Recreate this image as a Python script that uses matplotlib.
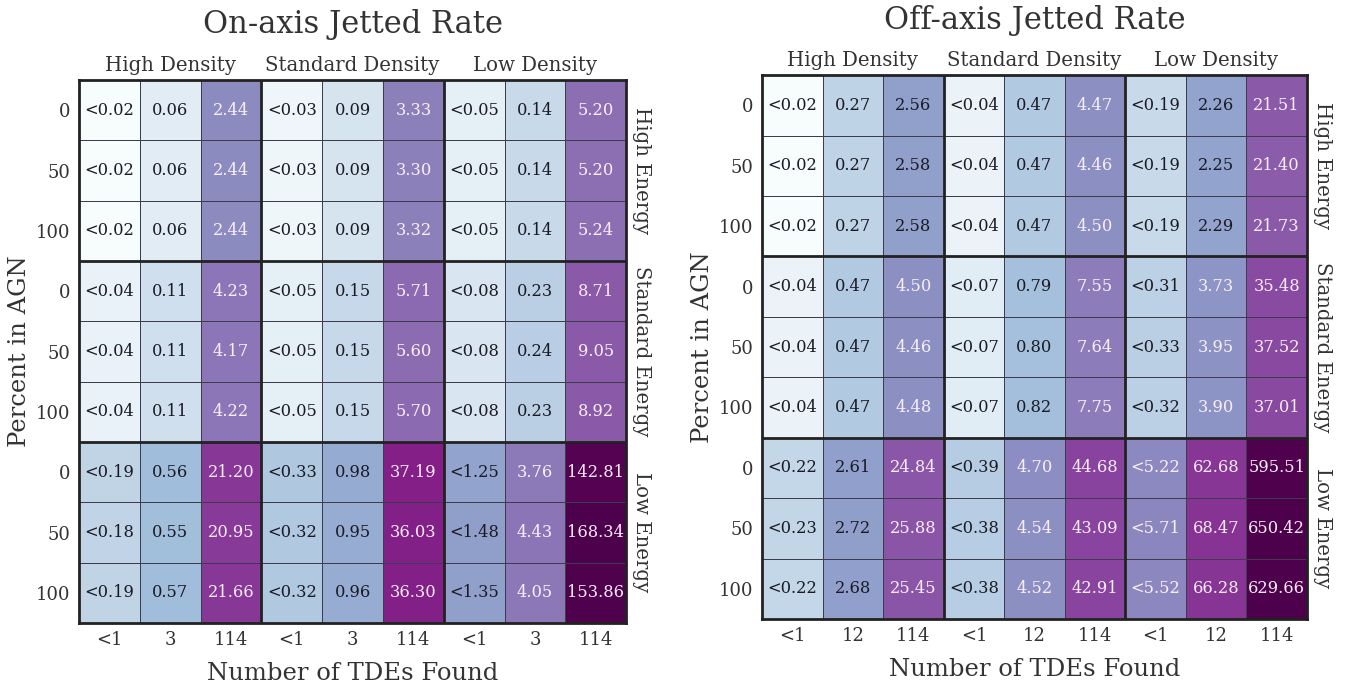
import matplotlib
matplotlib.use('Agg')
import matplotlib.pyplot as plt
import numpy as np
from matplotlib.colors import LogNorm

plt.rcParams['font.family'] = 'DejaVu Serif'

# строки: энергия (High, Standard, Low) x доля в AGN (0, 50, 100)
# столбцы: плотность (High, Standard, Low) x число TDE (<1, мало, 114)
on_axis_rates = [
    [0.02, 0.06, 2.44, 0.03, 0.09, 3.33, 0.05, 0.14, 5.20],
    [0.02, 0.06, 2.44, 0.03, 0.09, 3.30, 0.05, 0.14, 5.20],
    [0.02, 0.06, 2.44, 0.03, 0.09, 3.32, 0.05, 0.14, 5.24],
    [0.04, 0.11, 4.23, 0.05, 0.15, 5.71, 0.08, 0.23, 8.71],
    [0.04, 0.11, 4.17, 0.05, 0.15, 5.60, 0.08, 0.24, 9.05],
    [0.04, 0.11, 4.22, 0.05, 0.15, 5.70, 0.08, 0.23, 8.92],
    [0.19, 0.56, 21.20, 0.33, 0.98, 37.19, 1.25, 3.76, 142.81],
    [0.18, 0.55, 20.95, 0.32, 0.95, 36.03, 1.48, 4.43, 168.34],
    [0.19, 0.57, 21.66, 0.32, 0.96, 36.30, 1.35, 4.05, 153.86],
]
off_axis_rates = [
    [0.02, 0.27, 2.56, 0.04, 0.47, 4.47, 0.19, 2.26, 21.51],
    [0.02, 0.27, 2.58, 0.04, 0.47, 4.46, 0.19, 2.25, 21.40],
    [0.02, 0.27, 2.58, 0.04, 0.47, 4.50, 0.19, 2.29, 21.73],
    [0.04, 0.47, 4.50, 0.07, 0.79, 7.55, 0.31, 3.73, 35.48],
    [0.04, 0.47, 4.46, 0.07, 0.80, 7.64, 0.33, 3.95, 37.52],
    [0.04, 0.47, 4.48, 0.07, 0.82, 7.75, 0.32, 3.90, 37.01],
    [0.22, 2.61, 24.84, 0.39, 4.70, 44.68, 5.22, 62.68, 595.51],
    [0.23, 2.72, 25.88, 0.38, 4.54, 43.09, 5.71, 68.47, 650.42],
    [0.22, 2.68, 25.45, 0.38, 4.52, 42.91, 5.52, 66.28, 629.66],
]
# столбцы с верхними пределами ("<")
upper_limit_cols = [0, 3, 6]

agn_percent = ['0', '50', '100'] * 3
on_axis_tdes = ['<1', '3', '114'] * 3
off_axis_tdes = ['<1', '12', '114'] * 3
density_labels = ['High Density', 'Standard Density', 'Low Density']
energy_labels = ['High Energy', 'Standard Energy', 'Low Energy']

TEXT = '#333333'


def draw_panel(ax, rates, tde_labels, title, title_pad, dens_y):
    data = np.array(rates)
    n_rows, n_cols = data.shape
    norm = LogNorm(vmin=data.min(), vmax=data.max())
    cmap = plt.get_cmap('BuPu')
    ax.pcolormesh(np.arange(n_cols + 1), np.arange(n_rows + 1), data,
                  cmap=cmap, norm=norm, edgecolors='#3c3c4c', linewidth=0.6)
    ax.set_xlim(0, n_cols)
    ax.set_ylim(n_rows, 0)

    # подписи значений в ячейках
    for i in range(n_rows):
        for j in range(n_cols):
            v = data[i, j]
            color = '#fbeefb' if norm(v) > 0.49 else '#1a1a24'
            txt = f'{v:.2f}'
            if j in upper_limit_cols:
                txt = '<' + txt
            ax.text(j + 0.5, i + 0.5, txt, ha='center', va='center',
                    fontsize=11.7, color=color)

    # толстые линии между блоками
    for k in (3, 6):
        ax.axhline(k, color='#222222', linewidth=2)
        ax.axvline(k, color='#222222', linewidth=2)
    for s in ax.spines.values():
        s.set_linewidth(2)
        s.set_color('#222222')

    ax.set_xticks(np.arange(n_cols) + 0.5)
    ax.set_xticklabels(tde_labels, fontsize=13, color=TEXT)
    ax.set_yticks(np.arange(n_rows) + 0.5)
    ax.set_yticklabels(agn_percent, fontsize=13, color=TEXT)
    ax.tick_params(length=0, pad=6)

    ax.set_xlabel('Number of TDEs Found', fontsize=17.5, color=TEXT, labelpad=9)
    ax.set_ylabel('Percent in AGN', fontsize=17.5, color=TEXT, labelpad=4)
    ax.set_title(title, fontsize=22, color=TEXT, pad=title_pad)

    for k, lab in enumerate(density_labels):
        ax.text(3 * k + 1.5, dens_y, lab, ha='center', va='bottom',
                fontsize=14.2, color=TEXT)
    for k, lab in enumerate(energy_labels):
        ax.text(n_cols + 0.1, 3 * k + 1.5, lab, ha='left', va='center',
                rotation=270, fontsize=14.2, color=TEXT)


fig = plt.figure(figsize=(13.51, 6.90), dpi=100)
ax1 = fig.add_axes([0.0585, 0.097, 0.405, 0.787])
ax2 = fig.add_axes([0.564, 0.103, 0.4034, 0.788])

draw_panel(ax1, on_axis_rates, on_axis_tdes, 'On-axis Jetted Rate', 34, -0.08)
draw_panel(ax2, off_axis_rates, off_axis_tdes, 'Off-axis Jetted Rate', 33, -0.08)

fig.savefig('out.png', dpi=100)
